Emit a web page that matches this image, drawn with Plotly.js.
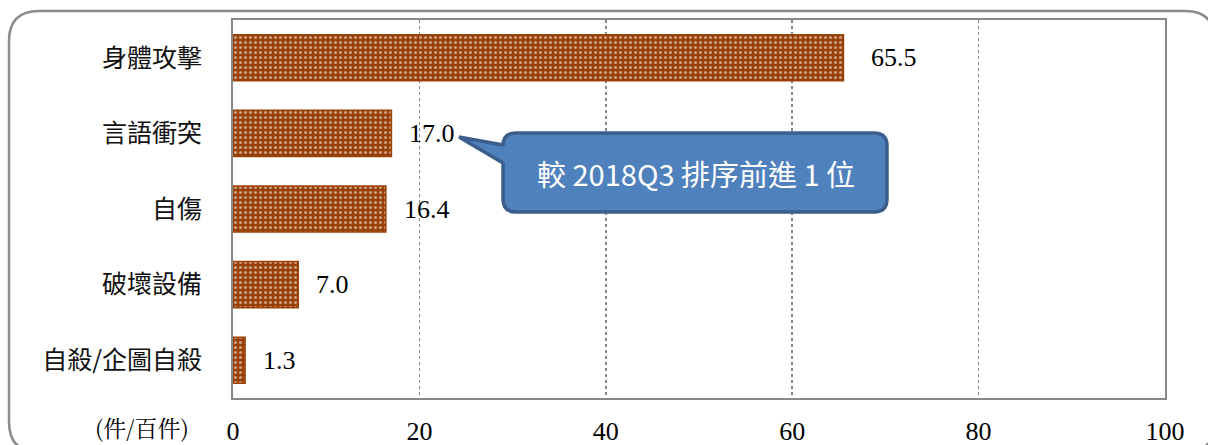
<!DOCTYPE html>
<html><head><meta charset="utf-8">
<script src="https://cdn.plot.ly/plotly-3.0.1.min.js"></script>
<style>html,body{margin:0;padding:0;background:#fff}#c{width:1208px;height:445px}</style>
</head><body><div id="c"></div>
<script>
const categories = ['身體攻擊','言語衝突','自傷','破壞設備','自殺/企圖自殺'];
const values = [65.5, 17.0, 16.4, 7.0, 1.3];
const tickVals = [0,20,40,60,80,100];
const unitLabel = '(件/百件)';
const calloutText = '較 2018Q3 排序前進 1 位';

const W=1208,H=445,L=233,R=43,T=20,B=47;
const PW=W-L-R, PH=H-T-B;
const px = X => ((X-L)/PW).toFixed(5);
const py = Y => ((H-B-Y)/PH).toFixed(5);
function rrect(x0,y0,x1,y1,r){
  return `M${px(x0+r)},${py(y0)} L${px(x1-r)},${py(y0)} Q${px(x1)},${py(y0)} ${px(x1)},${py(y0+r)} `+
    `L${px(x1)},${py(y1-r)} Q${px(x1)},${py(y1)} ${px(x1-r)},${py(y1)} L${px(x0+r)},${py(y1)} `+
    `Q${px(x0)},${py(y1)} ${px(x0)},${py(y1-r)} L${px(x0)},${py(y0+r)} Q${px(x0)},${py(y0)} ${px(x0+r)},${py(y0)} Z`;
}
function callout(x0,y0,x1,y1,r,tx,ty,ja,jb){
  return `M${px(x0+r)},${py(y0)} L${px(x1-r)},${py(y0)} Q${px(x1)},${py(y0)} ${px(x1)},${py(y0+r)} `+
    `L${px(x1)},${py(y1-r)} Q${px(x1)},${py(y1)} ${px(x1-r)},${py(y1)} L${px(x0+r)},${py(y1)} `+
    `Q${px(x0)},${py(y1)} ${px(x0)},${py(y1-r)} L${px(x0)},${py(jb)} L${px(tx)},${py(ty)} L${px(x0)},${py(ja)} `+
    `L${px(x0)},${py(y0+r)} Q${px(x0)},${py(y0)} ${px(x0+r)},${py(y0)} Z`;
}

const trace = {
  type:'bar', orientation:'h', x:values, y:categories,
  width:0.61,
  marker:{color:'#983F05', line:{color:'#9A4308', width:1.5},
    pattern:{shape:'.', fgcolor:'#FFFFFF', bgcolor:'#983F05', size:5, solidity:0.3, fillmode:'overlay'}},
  hoverinfo:'none'
};

const serif = 'Liberation Serif, Times New Roman, serif';
const annotations = values.map((v,i)=>({
  x:v, y:categories[i], xref:'x', yref:'y', text:v.toFixed(1), showarrow:false,
  xanchor:'left', xshift:(i===0?26:16), font:{family:serif, size:26, color:'#000'}
}));
annotations.push({x:px(142), y:py(427), xref:'paper', yref:'paper', text:unitLabel, showarrow:false, borderpad:0,
  xanchor:'center', yanchor:'middle', font:{family:'Noto Serif CJK TC, Liberation Serif, serif', size:23, color:'#000'}});
annotations.push({x:px(696), y:py(173), xref:'paper', yref:'paper', text:calloutText, showarrow:false,
  xanchor:'center', yanchor:'middle', font:{family:'Noto Sans CJK TC, sans-serif', size:29, color:'#FFFFFF'}});

const shapes = [
  {type:'path', xref:'paper', yref:'paper', path:rrect(9,11,1215,452,30), line:{color:'#8C8C8C', width:2.5}, fillcolor:'rgba(0,0,0,0)', layer:'below'},
  {type:'path', xref:'paper', yref:'paper', path:callout(503,133,887,212,13,459,137,145,163), line:{color:'#3B5E8C', width:3.5}, fillcolor:'#4F81BD', layer:'above'}
];

const layout = {
  width:W, height:H, margin:{l:L,r:R,t:T,b:B}, paper_bgcolor:'#fff', plot_bgcolor:'#fff',
  showlegend:false,
  xaxis:{range:[0,100], tickvals:tickVals, ticktext:tickVals.map(String), showgrid:true, gridcolor:'#888', griddash:'dot', gridwidth:1.5,
    showline:true, linecolor:'#888', linewidth:2, mirror:true, zeroline:false, ticks:'', ticklabelstandoff:9,
    tickfont:{family:serif, size:26, color:'#000'}, fixedrange:true},
  yaxis:{type:'category', autorange:'reversed', showline:true, linecolor:'#888', linewidth:2, mirror:true, showgrid:false,
    ticks:'', ticklabelstandoff:24, tickfont:{family:'Noto Sans CJK TC, sans-serif', size:25, color:'#111'}, fixedrange:true},
  annotations, shapes
};
Plotly.newPlot('c',[trace],layout,{displayModeBar:false,staticPlot:true});
</script></body></html>
